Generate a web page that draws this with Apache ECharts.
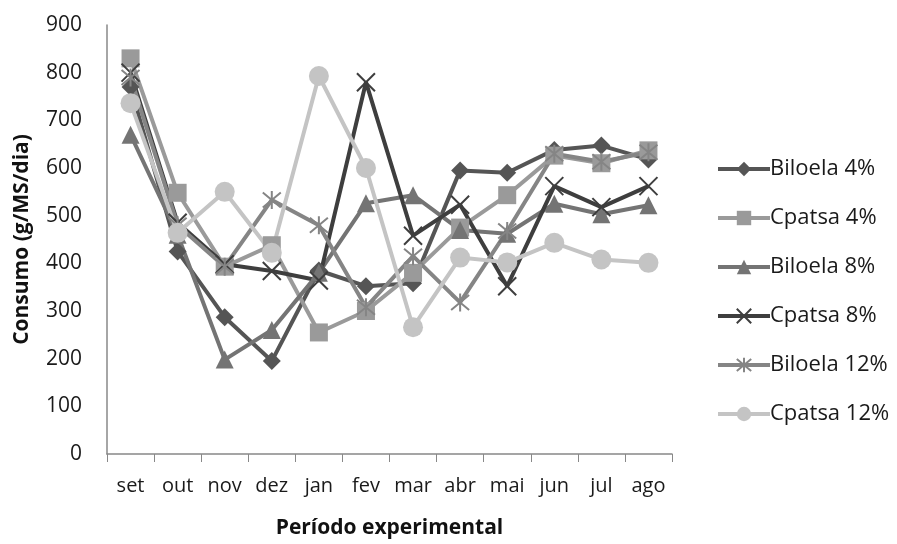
<!DOCTYPE html>
<html>
<head>
<meta charset="utf-8">
<script src="https://cdn.jsdelivr.net/npm/echarts@6/dist/echarts.min.js"></script>
<style>html,body{margin:0;padding:0;background:#fff}#c{width:897px;height:544px}</style>
</head>
<body>
<div id="c"></div>
<script>
const categories = ['set','out','nov','dez','jan','fev','mar','abr','mai','jun','jul','ago'];
const yTicks = [0,100,200,300,400,500,600,700,800,900];
const biloela4  = [770, 425, 287, 195, 385, 352, 358, 595, 590, 638, 647, 618];
const cpatsa4   = [830, 548, 393, 438, 255, 300, 380, 475, 543, 626, 610, 637];
const biloela8  = [670, 460, 198, 260, 380, 526, 543, 470, 462, 525, 503, 522];
const cpatsa8   = [800, 485, 398, 384, 364, 780, 458, 523, 352, 562, 518, 562];
const biloela12 = [790, 480, 393, 533, 480, 308, 415, 318, 468, 630, 613, 633];
const cpatsa12  = [736, 464, 550, 422, 793, 600, 266, 412, 402, 443, 408, 401];

const X = 'path://M0,0L10,10M10,0L0,10';
const AST = 'path://M0,0L10,10M10,0L0,10M5,-1L5,11';
const FONT = 'Open Sans';

function mk(name, data, color, symbol, size, strokeSym) {
  return {
    name, type: 'line', data,
    symbol, symbolSize: size,
    lineStyle: { color, width: 4 },
    itemStyle: strokeSym
      ? { color: 'rgba(0,0,0,0)', borderColor: color, borderWidth: 2 }
      : { color, borderColor: color, borderWidth: 0 },
    emphasis: { disabled: true },
    z: 2
  };
}

const chart = echarts.init(document.getElementById('c'));
chart.setOption({
  animation: false,
  backgroundColor: '#fff',
  textStyle: { fontFamily: FONT },
  grid: { left: 107, right: 225, top: 25, bottom: 86, containLabel: false },
  legend: {
    orient: 'vertical', left: 711, top: 153,
    itemWidth: 52, itemHeight: 18, itemGap: 27,
    lineStyle: { width: 4 },
    textStyle: { fontSize: 22, color: '#1a1a1a', fontFamily: FONT, padding: [0,0,0,-5] },
    data: ['Biloela 4%','Cpatsa 4%','Biloela 8%','Cpatsa 8%','Biloela 12%','Cpatsa 12%']
  },
  xAxis: {
    type: 'category', data: categories, boundaryGap: true,
    name: 'Período experimental', nameLocation: 'middle', nameGap: 64,
    nameTextStyle: { fontSize: 21, fontWeight: 'bold', color: '#111', fontFamily: FONT },
    axisLine: { lineStyle: { color: '#888', width: 1.5 } },
    axisTick: { show: true, interval: 0, alignWithLabel: false, length: 8, lineStyle: { color: '#888' } },
    axisLabel: { fontSize: 20, color: '#1a1a1a', margin: 22, interval: 0, hideOverlap: false }
  },
  yAxis: {
    type: 'value', min: 0, max: 900, interval: 100,
    name: 'Consumo (g/MS/dia)', nameLocation: 'middle', nameGap: 74,
    nameTextStyle: { fontSize: 21, fontWeight: 'bold', color: '#111', fontFamily: FONT },
    axisLine: { show: true, lineStyle: { color: '#888', width: 1.5 } },
    axisTick: { show: false },
    splitLine: { show: false },
    axisLabel: { fontSize: 21, color: '#1a1a1a', margin: 25,
      formatter: v => yTicks.includes(v) ? String(v) : '' }
  },
  series: [
    mk('Biloela 4%', biloela4, '#555555', 'diamond', 18, false),
    mk('Cpatsa 4%', cpatsa4, '#9a9a9a', 'rect', 18, false),
    mk('Biloela 8%', biloela8, '#747474', 'triangle', 18, false),
    mk('Cpatsa 8%', cpatsa8, '#3e3e3e', X, 18, true),
    mk('Biloela 12%', biloela12, '#858585', AST, 18, true),
    mk('Cpatsa 12%', cpatsa12, '#c4c4c4', 'circle', 20, false)
  ]
});
</script>
</body>
</html>
